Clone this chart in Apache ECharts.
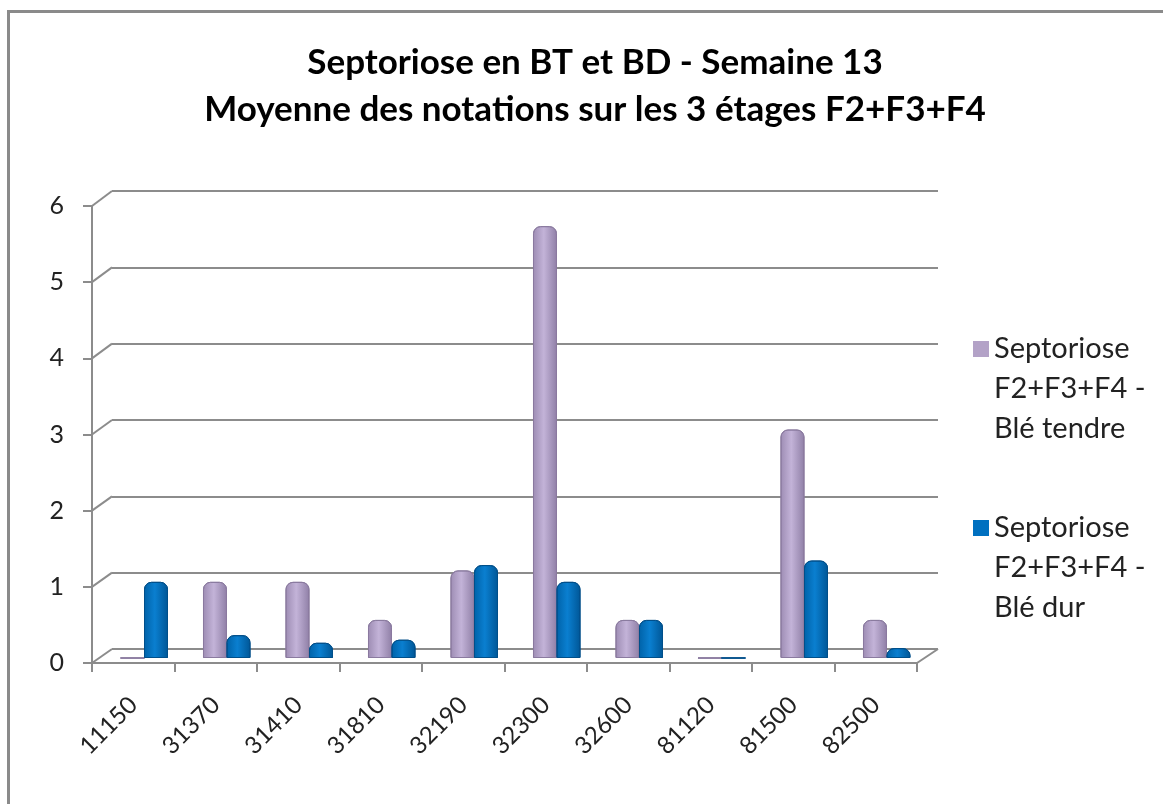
<!DOCTYPE html>
<html><head><meta charset="utf-8">
<script src="https://cdn.jsdelivr.net/npm/echarts@6/dist/echarts.min.js"></script>
<style>
html,body{margin:0;padding:0;background:#fff;}
#frame{position:absolute;left:7px;top:10px;width:1170px;height:800px;border-left:3px solid #8a8a8a;border-top:3px solid #8a8a8a;box-sizing:border-box;}
#c{position:absolute;left:0;top:0;width:1163px;height:804px;}
</style></head>
<body><div id="frame"></div><div id="c"></div>
<script>
const categories = ['11150','31370','31410','31810','32190','32300','32600','81120','81500','82500'];
const bleTendre = [0, 1, 1, 0.5, 1.15, 5.67, 0.5, 0, 3, 0.5];
const bleDur = [1, 0.3, 0.2, 0.24, 1.22, 1, 0.5, 0, 1.28, 0.13];
const yTicks = [0, 1, 2, 3, 4, 5, 6];
const seriesNames = ['Septoriose\nF2+F3+F4 -\nBlé tendre', 'Septoriose\nF2+F3+F4 -\nBlé dur'];

const chart = echarts.init(document.getElementById('c'));
function cyl(c1, c2, c3) {
  return new echarts.graphic.LinearGradient(0, 0, 1, 0, [
    {offset: 0, color: c1}, {offset: 0.45, color: c2}, {offset: 1, color: c3}
  ]);
}
const font = 'Lato, "Open Sans", sans-serif';
const grey = '#8c8c8c';
const legendIcon = 'path://M0,12h16v16h-16z M0,0h0.01v0.01h-0.01z M0,120h0.01v0.01h-0.01z';
chart.setOption({
  animation: false,
  title: {
    text: 'Septoriose en BT et BD - Semaine 13\nMoyenne des notations sur les 3 étages F2+F3+F4',
    left: 590, textAlign: 'center', top: 34,
    textStyle: {fontFamily: font, fontSize: 35, fontWeight: 'bold', color: '#000', lineHeight: 47}
  },
  legend: {
    orient: 'vertical', left: 968, top: 324, itemWidth: 16, itemHeight: 120, itemGap: 59,
    textStyle: {fontFamily: font, fontSize: 29, color: '#222', lineHeight: 40, padding: [0, 0, 0, 0]},
    data: [
      {name: seriesNames[0], icon: legendIcon, itemStyle: {color: '#B3A2C7', borderWidth: 0}},
      {name: seriesNames[1], icon: legendIcon, itemStyle: {color: '#0070C0', borderWidth: 0}}
    ]
  },
  grid: [
    {left: 112, right: 225, top: 191, bottom: 155},
    {left: 92, right: 246, top: 206, bottom: 141},
    {left: 103, right: 235, top: 201, bottom: 146}
  ],
  xAxis: [
    {gridIndex: 0, type: 'category', data: categories, show: false},
    {gridIndex: 1, type: 'category', data: categories,
     axisLine: {show: true, lineStyle: {color: grey, width: 2}},
     axisTick: {show: true, length: 9, lineStyle: {color: grey, width: 2}},
     axisLabel: {rotate: 45, fontFamily: font, fontSize: 24, color: '#222', margin: 38}},
    {gridIndex: 2, type: 'category', data: categories, show: false}
  ],
  yAxis: [
    {gridIndex: 0, type: 'value', min: 0, max: 6, interval: 1,
     axisLabel: {show: false}, axisLine: {show: false}, axisTick: {show: false},
     splitLine: {show: true, lineStyle: {color: grey, width: 2}}},
    {gridIndex: 1, type: 'value', min: 0, max: 6, interval: 1,
     axisLine: {show: true, lineStyle: {color: grey, width: 2}},
     axisTick: {show: true, length: 9, lineStyle: {color: grey, width: 2}},
     splitLine: {show: false},
     axisLabel: {fontFamily: font, fontSize: 25, color: '#222', margin: 28,
       formatter: v => yTicks.includes(v) ? String(v) : ''}},
    {gridIndex: 2, type: 'value', min: 0, max: 6, interval: 1, show: false, splitLine: {show: false}}
  ],
  series: [
    {name: seriesNames[0], type: 'bar', xAxisIndex: 2, yAxisIndex: 2, data: bleTendre,
     barWidth: 24, barGap: '-2%',
     itemStyle: {color: cyl('#9d8cb3', '#c3b3d8', '#8f7fa6'), borderColor: '#8a7a9f', borderWidth: 1, borderRadius: [7, 7, 0, 0]}},
    {name: seriesNames[1], type: 'bar', xAxisIndex: 2, yAxisIndex: 2, data: bleDur,
     barWidth: 24,
     itemStyle: {color: cyl('#0062a8', '#0a7fd0', '#005696'), borderColor: '#004f8a', borderWidth: 1, borderRadius: [7, 7, 0, 0]}}
  ]
});

// 3D wall connectors computed from the library's own scales
const backRect = chart.getModel().getComponent('grid', 0).coordinateSystem.getRect();
const frontRect = chart.getModel().getComponent('grid', 1).coordinateSystem.getRect();
const els = [];
yTicks.forEach(v => {
  const yf = chart.convertToPixel({yAxisIndex: 1}, v);
  const yb = chart.convertToPixel({yAxisIndex: 0}, v);
  els.push({type: 'line', shape: {x1: frontRect.x, y1: yf, x2: backRect.x, y2: yb},
    style: {stroke: grey, lineWidth: 2}, z: 1});
});
const yf0 = chart.convertToPixel({yAxisIndex: 1}, 0);
const yb0 = chart.convertToPixel({yAxisIndex: 0}, 0);
els.push({type: 'line', shape: {x1: frontRect.x + frontRect.width, y1: yf0, x2: backRect.x + backRect.width, y2: yb0},
  style: {stroke: grey, lineWidth: 2}, z: 1});
chart.setOption({graphic: {elements: els}});
</script></body></html>
